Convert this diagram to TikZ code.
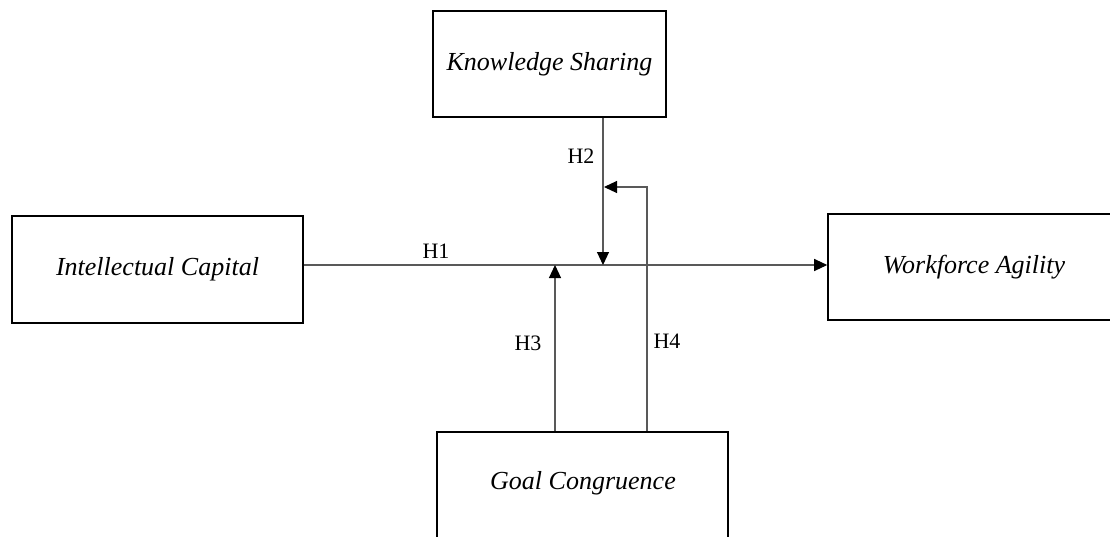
\documentclass[tikz,border=0pt]{standalone}
\usepackage{fontspec}
\setmainfont{Liberation Serif}
\usetikzlibrary{arrows.meta}
\begin{document}
\begin{tikzpicture}[x=1pt,y=1pt,
  varbox/.style={draw=black,line width=1.6pt,rectangle,inner sep=0pt,
    font=\fontsize{26}{30}\selectfont\itshape},
  link/.style={draw=black!65,line width=1.1pt},
  tip/.style={-{Triangle[length=13pt,width=12pt,color=black]}},
  hlabel/.style={font=\fontsize{22}{26}\selectfont,inner sep=0pt}]
\useasboundingbox (0,0) rectangle (1110,-536);
\clip (0,0) rectangle (1110,-536);
\node[varbox,minimum width=233pt,minimum height=106pt] (KS) at (549.5,-64) {Knowledge Sharing};
\node[varbox,minimum width=291pt,minimum height=107pt] (IC) at (157.5,-269.5) {Intellectual Capital};
\node[varbox,minimum width=292pt,minimum height=106pt] (WA) at (974,-267) {Workforce Agility};
\node[varbox,minimum width=291pt,minimum height=106pt] (GC) at (582.5,-485) {};
\node[font=\fontsize{26}{30}\selectfont\itshape] (GCt) at (583,-483) {Goal Congruence};
\coordinate (j1) at (0,-265);
\coordinate (j2) at (603,-265);
\coordinate (j3) at (555,-265);
\coordinate (j4) at (604,-187);
\coordinate (c4) at (647,0);
\draw[link,tip] (IC.east |- j1) -- (WA.west |- j1);
\draw[link,tip] (KS.south -| j2) -- (j2);
\draw[link,tip] (GC.north -| j3) -- (j3);
\draw[link,tip] (GC.north -| c4) |- (j4);
\node[hlabel] (H1) at (436,-251) {H1};
\node[hlabel] (H2) at (581,-156) {H2};
\node[hlabel] (H3) at (528,-343) {H3};
\node[hlabel] (H4) at (667,-341) {H4};
\end{tikzpicture}
\end{document}
